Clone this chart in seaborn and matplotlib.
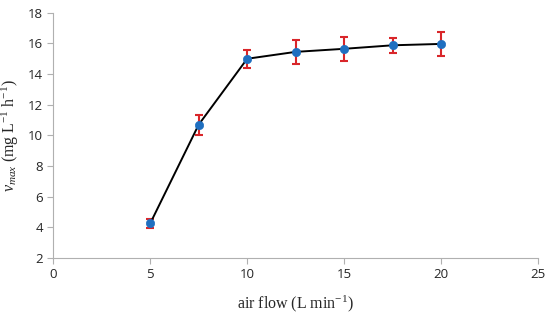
import matplotlib
matplotlib.use('Agg')
import matplotlib.pyplot as plt
import seaborn as sns
import pandas as pd

air_flow = [5, 7.5, 10, 12.5, 15, 17.5, 20]
vmax = [4.25, 10.7, 15.0, 15.45, 15.65, 15.88, 15.97]
vmax_err = [0.3, 0.65, 0.6, 0.78, 0.8, 0.5, 0.8]

x_ticks = [0, 5, 10, 15, 20, 25]
y_ticks = [2, 4, 6, 8, 10, 12, 14, 16, 18]

sns.set_style('ticks')
plt.rcParams['font.family'] = ['Open Sans', 'DejaVu Sans']
plt.rcParams['mathtext.fontset'] = 'custom'
plt.rcParams['mathtext.rm'] = 'Liberation Serif'
plt.rcParams['mathtext.it'] = 'Liberation Serif:italic'

df = pd.DataFrame({'air_flow': air_flow, 'vmax': vmax})

fig, ax = plt.subplots(figsize=(5.5, 3.21), dpi=100)
ax.errorbar(air_flow, vmax, yerr=vmax_err, fmt='none', ecolor='#d9262a',
            elinewidth=1.5, capsize=3, capthick=1.5, zorder=2)
sns.lineplot(data=df, x='air_flow', y='vmax', ax=ax, color='black',
             linewidth=1.4, zorder=3)
sns.scatterplot(data=df, x='air_flow', y='vmax', ax=ax, color='#1f6fc0',
                s=36, edgecolor='#1f6fc0', zorder=4)

ax.set_xlim(0, 25)
ax.set_ylim(2, 18)
ax.set_xticks(x_ticks)
ax.set_yticks(y_ticks)
ax.tick_params(labelsize=9.5, color='#b0b0b0', length=4, width=0.8)
for s in ['top', 'right']:
    ax.spines[s].set_visible(False)
for s in ['left', 'bottom']:
    ax.spines[s].set_color('#b0b0b0')
    ax.spines[s].set_linewidth(0.8)

serif = ['Liberation Serif', 'DejaVu Serif']
ax.set_xlabel(r'$\mathrm{air\ flow\ (L\ min^{-1})}$', family=serif,
              fontsize=11.5, labelpad=9)
ax.set_ylabel(r'$v_{max}\ \mathrm{(mg\ L^{-1}\ h^{-1})}$', family=serif,
              fontsize=11.5, labelpad=5)

fig.subplots_adjust(left=0.097, right=0.978, top=0.96, bottom=0.197)
fig.savefig('out.png', dpi=100)
